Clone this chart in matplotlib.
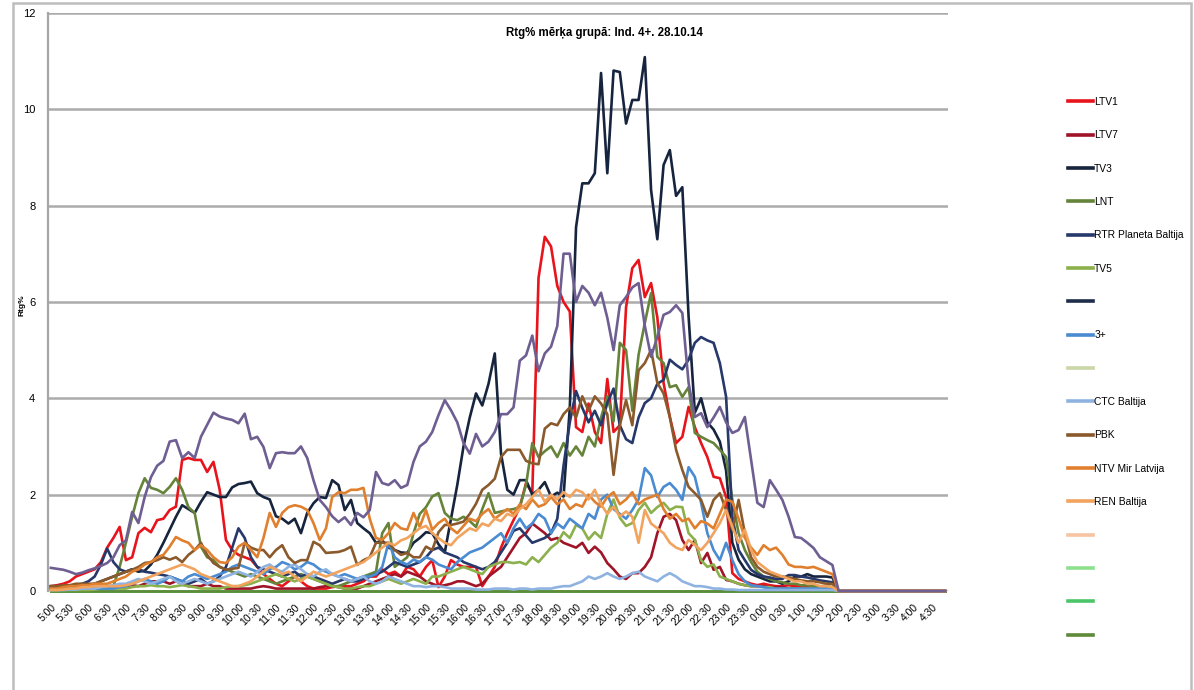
import numpy as np
import matplotlib
matplotlib.use("Agg")
import matplotlib.pyplot as plt
from matplotlib.patches import Rectangle

plt.rcParams['font.family'] = ['Liberation Sans', 'DejaVu Sans']

# 10 minute slots from 5:00 to 1:50, everything is 0 from 2:00 to 4:50
night = [0.0] * 18

ltv1 = [0.1, 0.12, 0.15, 0.2, 0.3, 0.35,
        0.4, 0.45, 0.6, 0.9, 1.1, 1.33,
        0.64, 0.7, 1.2, 1.31, 1.22, 1.47,
        1.5, 1.68, 1.75, 2.72, 2.76, 2.72,
        2.72, 2.47, 2.68, 2.1, 1.06, 0.85,
        0.75, 0.7, 0.65, 0.5, 0.35, 0.25,
        0.15, 0.1, 0.2, 0.3, 0.2, 0.1,
        0.05, 0.05, 0.05, 0.08, 0.1, 0.1,
        0.1, 0.15, 0.2, 0.3, 0.3, 0.45,
        0.35, 0.4, 0.3, 0.5, 0.45, 0.3,
        0.5, 0.64, 0.08, 0.3, 0.64, 0.55,
        0.5, 0.5, 0.5, 0.1, 0.3, 0.5,
        0.9, 1.2, 1.47, 1.74, 2.24, 2.03,
        6.5, 7.35, 7.15, 6.33, 6.0, 5.8,
        3.4, 3.3, 3.89, 3.3, 3.07, 4.4,
        3.3, 3.44, 5.89, 6.7, 6.87, 6.1,
        6.39, 5.68, 4.32, 3.61, 3.07, 3.2,
        3.82, 3.4, 3.07, 2.78, 2.37, 2.34,
        1.95, 0.37, 0.25, 0.2, 0.15, 0.12,
        0.15, 0.12, 0.1, 0.1, 0.12, 0.1,
        0.1, 0.1, 0.1, 0.08, 0.08, 0.05]

ltv7 = [0.05, 0.05, 0.05, 0.05, 0.05, 0.05,
        0.05, 0.05, 0.05, 0.08, 0.1, 0.1,
        0.1, 0.12, 0.1, 0.15, 0.2, 0.2,
        0.2, 0.15, 0.2, 0.15, 0.1, 0.1,
        0.1, 0.15, 0.1, 0.1, 0.05, 0.05,
        0.05, 0.05, 0.05, 0.08, 0.1, 0.08,
        0.05, 0.05, 0.05, 0.05, 0.05, 0.05,
        0.05, 0.08, 0.1, 0.1, 0.08, 0.05,
        0.05, 0.05, 0.1, 0.15, 0.2, 0.25,
        0.3, 0.35, 0.3, 0.4, 0.35, 0.3,
        0.2, 0.15, 0.1, 0.12, 0.15, 0.2,
        0.2, 0.15, 0.1, 0.15, 0.3, 0.4,
        0.5, 0.7, 0.9, 1.1, 1.2, 1.4,
        1.3, 1.2, 1.06, 1.1, 1.0, 0.95,
        0.9, 1.0, 0.79, 0.92, 0.8, 0.58,
        0.45, 0.3, 0.25, 0.37, 0.37, 0.5,
        0.7, 1.2, 1.54, 1.6, 1.47, 1.06,
        0.85, 1.06, 0.58, 0.79, 0.44, 0.5,
        0.23, 0.2, 0.15, 0.12, 0.1, 0.1,
        0.1, 0.08, 0.08, 0.08, 0.05, 0.05,
        0.05, 0.05, 0.05, 0.05, 0.05, 0.05]

tv3 = [0.05, 0.05, 0.05, 0.08, 0.1, 0.1,
       0.12, 0.15, 0.2, 0.25, 0.3, 0.35,
       0.4, 0.45, 0.4, 0.42, 0.55, 0.75,
       1.0, 1.27, 1.54, 1.78, 1.7, 1.62,
       1.85, 2.05, 2.0, 1.95, 1.95, 2.15,
       2.22, 2.24, 2.27, 2.03, 1.95, 1.9,
       1.55, 1.5, 1.4, 1.5, 1.2, 1.62,
       1.82, 1.95, 1.93, 2.3, 2.2, 1.68,
       1.89, 1.41, 1.3, 1.2, 1.0, 1.05,
       0.9, 0.85, 0.8, 0.79, 1.0, 1.1,
       1.22, 1.2, 0.97, 0.8, 1.5, 2.2,
       3.0, 3.6, 4.1, 3.85, 4.3, 4.93,
       2.85, 2.1, 2.0, 2.3, 2.3, 2.0,
       2.1, 2.26, 1.96, 2.04, 1.96, 3.8,
       7.55, 8.46, 8.46, 8.67, 10.75, 8.67,
       10.8, 10.77, 9.7, 10.19, 10.19, 11.08,
       8.32, 7.3, 8.84, 9.15, 8.2, 8.38,
       5.7, 3.7, 4.0, 3.5, 3.35, 3.1,
       2.5, 1.0, 0.65, 0.45, 0.35, 0.3,
       0.25, 0.2, 0.2, 0.15, 0.2, 0.3,
       0.3, 0.35, 0.3, 0.3, 0.3, 0.28]

lnt = [0.05, 0.05, 0.05, 0.05, 0.05, 0.05,
       0.08, 0.1, 0.1, 0.1, 0.1, 0.5,
       1.0, 1.54, 2.03, 2.34, 2.14, 2.1,
       2.03, 2.16, 2.34, 2.1, 1.74, 1.62,
       0.92, 0.7, 0.64, 0.5, 0.45, 0.4,
       0.35, 0.3, 0.35, 0.3, 0.25, 0.2,
       0.15, 0.2, 0.25, 0.3, 0.35, 0.3,
       0.25, 0.2, 0.15, 0.1, 0.1, 0.15,
       0.2, 0.25, 0.3, 0.35, 0.4, 1.2,
       1.41, 0.5, 0.6, 0.7, 1.2, 1.6,
       1.74, 1.96, 2.03, 1.62, 1.5, 1.47,
       1.54, 1.45, 1.33, 1.7, 2.03, 1.62,
       1.65, 1.68, 1.7, 1.74, 2.2, 3.07,
       2.78, 2.9, 3.0, 2.78, 3.07, 2.81,
       3.0, 2.81, 3.2, 3.0, 3.6, 4.04,
       3.52, 5.15, 5.0, 3.74, 4.9, 5.56,
       6.18, 4.86, 4.73, 4.23, 4.27, 4.03,
       4.23, 3.28, 3.2, 3.13, 3.07, 2.93,
       2.78, 1.89, 1.2, 0.85, 0.6, 0.4,
       0.3, 0.25, 0.2, 0.18, 0.15, 0.15,
       0.12, 0.12, 0.1, 0.1, 0.1, 0.08]

rtr = [0.1, 0.1, 0.1, 0.1, 0.12, 0.15,
       0.2, 0.3, 0.55, 0.88, 0.6, 0.45,
       0.4, 0.45, 0.45, 0.4, 0.38, 0.35,
       0.33, 0.3, 0.25, 0.2, 0.15, 0.2,
       0.25, 0.15, 0.2, 0.3, 0.5, 0.9,
       1.3, 1.1, 0.7, 0.5, 0.45, 0.4,
       0.35, 0.3, 0.35, 0.4, 0.3, 0.35,
       0.3, 0.25, 0.2, 0.15, 0.2, 0.25,
       0.2, 0.2, 0.25, 0.3, 0.35, 0.4,
       0.5, 0.6, 0.55, 0.5, 0.55, 0.6,
       0.7, 0.85, 0.9, 0.8, 0.75, 0.7,
       0.6, 0.55, 0.5, 0.45, 0.5, 0.6,
       0.8, 1.0, 1.25, 1.3, 1.15, 1.0,
       1.05, 1.1, 1.2, 1.5, 2.6, 3.5,
       4.15, 3.8, 3.5, 3.74, 3.44, 3.9,
       4.2, 3.44, 3.15, 3.07, 3.6, 3.9,
       4.0, 4.3, 4.38, 4.8, 4.69, 4.6,
       4.8, 5.15, 5.27, 5.2, 5.15, 4.73,
       4.03, 1.54, 0.85, 0.64, 0.44, 0.35,
       0.3, 0.28, 0.25, 0.25, 0.33, 0.33,
       0.3, 0.28, 0.25, 0.22, 0.2, 0.18]

tv5 = [0.02, 0.02, 0.02, 0.02, 0.02, 0.02,
       0.02, 0.03, 0.05, 0.05, 0.05, 0.05,
       0.05, 0.08, 0.1, 0.1, 0.12, 0.1,
       0.1, 0.08, 0.1, 0.12, 0.1, 0.08,
       0.05, 0.05, 0.05, 0.05, 0.08, 0.1,
       0.1, 0.12, 0.15, 0.2, 0.25, 0.3,
       0.35, 0.3, 0.25, 0.2, 0.25, 0.3,
       0.25, 0.2, 0.15, 0.1, 0.08, 0.05,
       0.05, 0.08, 0.1, 0.1, 0.15, 0.2,
       0.25, 0.2, 0.15, 0.2, 0.25, 0.2,
       0.15, 0.3, 0.3, 0.35, 0.4, 0.45,
       0.5, 0.45, 0.4, 0.35, 0.5, 0.55,
       0.6, 0.6, 0.58, 0.6, 0.55, 0.7,
       0.6, 0.75, 0.9, 1.0, 1.22, 1.1,
       1.37, 1.3, 1.07, 1.22, 1.1, 1.6,
       1.9, 1.52, 1.35, 1.41, 1.68, 1.83,
       1.62, 1.74, 1.83, 1.68, 1.75, 1.74,
       1.2, 1.06, 0.64, 0.5, 0.55, 0.3,
       0.25, 0.2, 0.15, 0.12, 0.1, 0.1,
       0.08, 0.08, 0.05, 0.05, 0.05, 0.05,
       0.05, 0.05, 0.05, 0.05, 0.05, 0.05]

tv3plus = [0.05, 0.05, 0.05, 0.05, 0.05, 0.05,
           0.05, 0.05, 0.05, 0.05, 0.05, 0.08,
           0.1, 0.15, 0.2, 0.25, 0.2, 0.15,
           0.2, 0.3, 0.25, 0.2, 0.3, 0.35,
           0.3, 0.25, 0.3, 0.35, 0.4, 0.5,
           0.55, 0.5, 0.45, 0.4, 0.35, 0.45,
           0.5, 0.6, 0.55, 0.45, 0.5, 0.6,
           0.55, 0.45, 0.4, 0.35, 0.3, 0.35,
           0.3, 0.25, 0.3, 0.3, 0.35, 0.5,
           1.0, 0.7, 0.6, 0.55, 0.65, 0.6,
           0.7, 0.65, 0.55, 0.5, 0.45, 0.6,
           0.7, 0.8, 0.85, 0.9, 1.0, 1.1,
           1.2, 1.0, 1.3, 1.5, 1.3, 1.4,
           1.6, 1.5, 1.2, 1.4, 1.3, 1.5,
           1.4, 1.3, 1.6, 1.5, 1.9, 2.0,
           1.7, 1.6, 1.5, 1.68, 1.9, 2.55,
           2.4, 1.95, 2.16, 2.24, 2.1, 1.89,
           2.57, 2.37, 1.83, 1.2, 0.85, 0.64,
           1.0, 0.64, 0.35, 0.2, 0.12, 0.1,
           0.08, 0.05, 0.05, 0.05, 0.05, 0.05,
           0.05, 0.05, 0.05, 0.05, 0.05, 0.05]

ctc = [0.02, 0.02, 0.02, 0.03, 0.03, 0.05,
       0.05, 0.05, 0.08, 0.1, 0.12, 0.15,
       0.15, 0.2, 0.25, 0.2, 0.15, 0.2,
       0.25, 0.3, 0.2, 0.15, 0.2, 0.25,
       0.2, 0.15, 0.2, 0.25, 0.3, 0.35,
       0.4, 0.35, 0.3, 0.4, 0.5, 0.55,
       0.45, 0.4, 0.5, 0.55, 0.45, 0.35,
       0.3, 0.4, 0.45, 0.35, 0.3, 0.25,
       0.2, 0.25, 0.3, 0.2, 0.15, 0.2,
       0.3, 0.25, 0.2, 0.15, 0.1, 0.1,
       0.08, 0.1, 0.1, 0.08, 0.05, 0.05,
       0.05, 0.05, 0.03, 0.03, 0.03, 0.05,
       0.05, 0.05, 0.03, 0.05, 0.05, 0.03,
       0.05, 0.05, 0.05, 0.08, 0.1, 0.1,
       0.15, 0.2, 0.3, 0.25, 0.3, 0.37,
       0.3, 0.25, 0.3, 0.37, 0.4, 0.3,
       0.25, 0.2, 0.3, 0.37, 0.3, 0.2,
       0.15, 0.1, 0.1, 0.08, 0.05, 0.05,
       0.03, 0.03, 0.02, 0.02, 0.02, 0.02,
       0.02, 0.02, 0.02, 0.02, 0.02, 0.02,
       0.02, 0.02, 0.02, 0.02, 0.02, 0.02]

pbk = [0.1, 0.1, 0.12, 0.12, 0.15, 0.15,
       0.15, 0.15, 0.2, 0.25, 0.3, 0.35,
       0.4, 0.44, 0.5, 0.58, 0.6, 0.64,
       0.7, 0.65, 0.7, 0.6, 0.75, 0.85,
       1.0, 0.75, 0.58, 0.5, 0.44, 0.46,
       0.48, 1.0, 0.9, 0.85, 0.85, 0.7,
       0.85, 0.95, 0.7, 0.58, 0.64, 0.64,
       1.02, 0.95, 0.79, 0.8, 0.81, 0.85,
       0.92, 0.54, 0.64, 0.7, 1.0, 1.0,
       1.0, 0.85, 0.75, 0.79, 0.7, 0.7,
       0.92, 0.85, 1.22, 1.37, 1.37, 1.4,
       1.44, 1.6, 1.81, 2.1, 2.2, 2.33,
       2.78, 2.93, 2.93, 2.93, 2.7, 2.65,
       2.63, 3.37, 3.48, 3.44, 3.67, 3.81,
       3.6, 4.04, 3.74, 4.04, 3.89, 3.67,
       2.41, 3.44, 3.96, 3.44, 4.58, 4.73,
       5.0, 4.32, 4.1, 3.61, 2.93, 2.51,
       2.16, 2.03, 1.89, 1.54, 1.89, 2.03,
       1.68, 1.27, 1.89, 1.2, 0.7, 0.5,
       0.4, 0.35, 0.3, 0.3, 0.28, 0.25,
       0.22, 0.2, 0.2, 0.18, 0.15, 0.15]

ntv = [0.05, 0.05, 0.08, 0.1, 0.1, 0.12,
       0.12, 0.15, 0.15, 0.15, 0.2, 0.25,
       0.3, 0.4, 0.45, 0.55, 0.6, 0.7,
       0.75, 0.92, 1.12, 1.05, 1.0, 0.85,
       0.95, 0.85, 0.7, 0.6, 0.58, 0.7,
       0.92, 1.0, 0.85, 0.7, 1.1, 1.62,
       1.33, 1.62, 1.74, 1.78, 1.75, 1.68,
       1.41, 1.06, 1.3, 1.95, 2.05, 2.03,
       2.1, 2.1, 2.14, 1.5, 1.1, 1.06,
       1.2, 1.41, 1.3, 1.27, 1.62, 1.33,
       1.68, 1.27, 1.41, 1.5, 1.3, 1.2,
       1.35, 1.5, 1.45, 1.6, 1.7, 1.5,
       1.6, 1.7, 1.6, 1.8, 1.7, 1.9,
       1.75, 1.8, 1.95, 1.8, 1.9, 1.7,
       1.8, 1.75, 2.0, 1.85, 1.75, 1.95,
       2.05, 1.8, 1.9, 2.05, 1.8, 1.9,
       1.95, 2.0, 1.7, 1.5, 1.6, 1.45,
       1.5, 1.3, 1.45, 1.4, 1.3, 1.6,
       1.9, 1.85, 1.5, 1.1, 0.9, 0.75,
       0.95, 0.85, 0.9, 0.75, 0.55, 0.5,
       0.5, 0.48, 0.5, 0.45, 0.4, 0.35]

ren = [0.02, 0.02, 0.03, 0.05, 0.05, 0.08,
       0.08, 0.1, 0.1, 0.1, 0.1, 0.1,
       0.12, 0.15, 0.2, 0.25, 0.3, 0.35,
       0.4, 0.45, 0.5, 0.55, 0.5, 0.45,
       0.35, 0.3, 0.25, 0.2, 0.15, 0.1,
       0.1, 0.15, 0.2, 0.3, 0.4, 0.5,
       0.45, 0.35, 0.4, 0.3, 0.2, 0.3,
       0.4, 0.35, 0.3, 0.35, 0.4, 0.45,
       0.5, 0.55, 0.6, 0.7, 0.8, 0.9,
       1.0, 0.95, 1.05, 1.1, 1.2, 1.3,
       1.35, 1.2, 1.1, 1.0, 0.95, 1.1,
       1.2, 1.3, 1.25, 1.4, 1.35, 1.5,
       1.45, 1.6, 1.55, 1.7, 1.8, 1.95,
       2.1, 1.85, 2.0, 1.9, 2.05, 1.95,
       2.1, 2.05, 1.9, 2.1, 1.8, 1.6,
       1.75, 1.55, 1.65, 1.54, 1.0, 1.68,
       1.4, 1.3, 1.2, 1.0, 0.9, 0.85,
       1.06, 0.95, 0.85, 1.0, 1.2, 1.41,
       1.68, 1.33, 1.0, 1.27, 0.85, 0.6,
       0.5, 0.4, 0.35, 0.3, 0.25, 0.2,
       0.2, 0.15, 0.15, 0.1, 0.1, 0.08]

# channel without a visible legend entry (purple line)
other = [0.48, 0.46, 0.44, 0.4, 0.35, 0.38,
         0.43, 0.47, 0.52, 0.58, 0.7, 0.95,
         1.05, 1.64, 1.41, 1.95, 2.36, 2.6,
         2.7, 3.1, 3.13, 2.76, 2.88, 2.76,
         3.2, 3.45, 3.7, 3.62, 3.58, 3.55,
         3.48, 3.68, 3.15, 3.2, 2.99, 2.55,
         2.86, 2.88, 2.86, 2.86, 3.0, 2.76,
         2.3, 1.89, 1.74, 1.55, 1.43, 1.53,
         1.37, 1.62, 1.53, 1.68, 2.47, 2.24,
         2.2, 2.3, 2.14, 2.2, 2.68, 3.0,
         3.1, 3.3, 3.65, 3.96, 3.75, 3.5,
         3.07, 2.85, 3.26, 3.0, 3.1, 3.3,
         3.67, 3.67, 3.81, 4.78, 4.89, 5.3,
         4.56, 4.93, 5.07, 5.5, 7.0, 7.0,
         6.0, 6.33, 6.19, 5.93, 6.19, 5.67,
         5.0, 5.93, 6.1, 6.3, 6.39, 5.5,
         4.86, 5.27, 5.73, 5.79, 5.93, 5.77,
         4.32, 3.61, 3.69, 3.4, 3.6, 3.82,
         3.5, 3.28, 3.34, 3.61, 2.72, 1.83,
         1.74, 2.3, 2.1, 1.89, 1.54, 1.12,
         1.1, 1.0, 0.89, 0.7, 0.62, 0.54]

empty = [0.0] * 126

legend_names = ["LTV1", "LTV7", "TV3", "LNT", "RTR Planeta Baltija", "TV5", "",
                "3+", "", "CTC Baltija", "PBK", "NTV Mir Latvija", "REN Baltija",
                "", "", "", ""]
series = [ltv1, ltv7, tv3, lnt, rtr, tv5, empty, tv3plus, empty, ctc, pbk, ntv,
          ren, empty, empty, empty, empty]
colors = ["#E8141C", "#A01428", "#16243E", "#65843A", "#27386A", "#8CB04C",
          "#1E2D4A", "#4A8BD2", "#C9D6A6", "#8FB3E0", "#8A5A2C", "#E0802E",
          "#F2A35E", "#F6C4A2", "#8EE08E", "#4CC46A", "#5E8A3A"]

ticklabels = ["%d:%02d" % ((5 + k // 2) % 24, 30 * (k % 2)) for k in range(48)]

fig = plt.figure(figsize=(11.94, 6.9), dpi=100)
ax = fig.add_axes([0.04, 0.1435, 0.754, 0.838])

x = np.arange(144)
# zero series first, real channels on top
order = [i for i in range(len(series)) if series[i] is empty] + \
        [i for i in range(len(series)) if series[i] is not empty]
lines = {}
for i in order:
    y = np.array(series[i] + night)
    ln, = ax.plot(x, y, color=colors[i], lw=1.9, clip_on=False, zorder=3)
    lines[i] = ln
ax.plot(x, np.array(other + night), color="#6E5E92", lw=1.9, clip_on=False, zorder=3)
handles = [lines[i] for i in range(len(series))]

ax.set_xlim(-0.5, 143.5)
ax.set_ylim(0, 12)
ax.set_yticks(np.arange(0, 13, 2))
ax.set_xticks(np.arange(0, 144, 3))
ax.set_xticklabels(ticklabels, rotation=45, ha='right', va='top',
                   rotation_mode='anchor', fontsize=7.5)
ax.tick_params(axis='x', length=0, pad=8)
ax.tick_params(axis='y', length=0, pad=9, labelsize=8)
ax.yaxis.grid(True, color='#ABABAB', lw=1.8)
ax.set_axisbelow(True)
for s in ['top', 'right', 'bottom']:
    ax.spines[s].set_visible(False)
ax.spines['left'].set_color('#A6A6A6')
ax.spines['left'].set_linewidth(1.6)

fig.text(22 / 1194, 1 - 305 / 690, "Rtg%", rotation=90, fontsize=6,
         fontweight='bold', ha='center', va='center')
fig.text(604 / 1194, 1 - 33 / 690, "Rtg% mērķa grupā: Ind. 4+. 28.10.14",
         fontsize=8.3, fontweight='bold', ha='center', va='center')

leg = fig.legend(handles, legend_names, loc='upper left',
                 bbox_to_anchor=(1068 / 1194, 1 - 97 / 690), frameon=False,
                 fontsize=7.4, labelspacing=2.27, handlelength=2.4,
                 handletextpad=0.15, borderpad=0, borderaxespad=0)
for h in leg.get_lines():
    h.set_linewidth(2.6)

fig.patches.append(Rectangle((13 / 1194, -0.02), (1191 - 13) / 1194, 1.02 - 3 / 690,
                             transform=fig.transFigure, fill=False,
                             edgecolor='#BDBDBD', lw=1.8))

fig.savefig("out.png", dpi=100)
